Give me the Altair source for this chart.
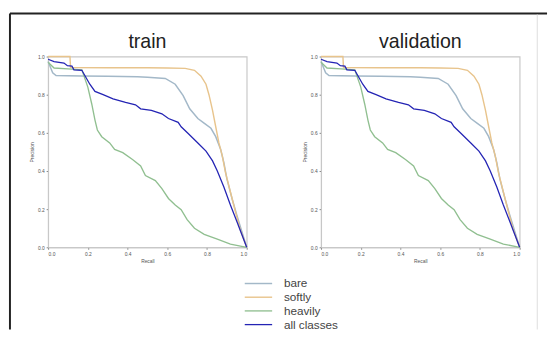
import altair as alt
import pandas as pd

panels = ["train", "validation"]
classes = ["bare", "softly", "heavily", "all classes"]
colors = ["#a3b8c8", "#e8c48c", "#90bf90", "#2424b4"]
widths = [1.5, 1.3, 1.5, 3.2]

bare_recall = [0.0, 0.023, 0.04, 0.10, 0.17, 0.30, 0.45, 0.50, 0.59, 0.64, 0.68, 0.713, 0.754, 0.787,
               0.82, 0.844, 0.869, 0.885, 0.90, 0.926, 0.95, 0.975, 1.0]
bare_precision = [0.974, 0.915, 0.90, 0.899, 0.898, 0.897, 0.894, 0.892, 0.885, 0.855, 0.795, 0.726,
                  0.675, 0.65, 0.624, 0.58, 0.513, 0.444, 0.36, 0.256, 0.17, 0.085, 0.0]

softly_recall = [0.0, 0.11, 0.113, 0.30, 0.50, 0.60, 0.69, 0.737, 0.77, 0.795, 0.81, 0.828, 0.844,
                 0.86, 0.877, 0.893, 0.918, 0.943, 0.967, 1.0]
softly_precision = [1.0, 1.0, 0.942, 0.941, 0.941, 0.94, 0.938, 0.928, 0.897, 0.855, 0.80, 0.718,
                    0.632, 0.547, 0.479, 0.393, 0.29, 0.188, 0.094, 0.0]

heavily_recall = [0.0, 0.03, 0.10, 0.17, 0.19, 0.20, 0.22, 0.236, 0.248, 0.27, 0.31, 0.335, 0.376,
                  0.425, 0.466, 0.49, 0.54, 0.573, 0.606, 0.64, 0.67, 0.70, 0.737, 0.786, 0.852,
                  0.918, 1.0]
heavily_precision = [0.97, 0.94, 0.935, 0.93, 0.87, 0.84, 0.75, 0.667, 0.615, 0.58, 0.547, 0.513,
                     0.496, 0.46, 0.427, 0.376, 0.35, 0.308, 0.256, 0.222, 0.197, 0.145, 0.10,
                     0.068, 0.043, 0.017, 0.0]

all_recall = [0.0, 0.03, 0.08, 0.097, 0.12, 0.13, 0.17, 0.187, 0.21, 0.236, 0.277, 0.327, 0.39,
              0.44, 0.466, 0.52, 0.573, 0.606, 0.655, 0.67, 0.704, 0.754, 0.795, 0.828, 0.852,
              0.885, 0.918, 0.95, 0.975, 1.0]
all_precision = [0.986, 0.974, 0.966, 0.952, 0.95, 0.93, 0.928, 0.897, 0.855, 0.817, 0.80, 0.778,
                 0.76, 0.747, 0.726, 0.718, 0.70, 0.675, 0.655, 0.632, 0.598, 0.547, 0.504, 0.453,
                 0.40, 0.316, 0.222, 0.137, 0.068, 0.0]

ticks = [0.0, 0.2, 0.4, 0.6, 0.8, 1.0]

series = {
    "bare": (bare_recall, bare_precision),
    "softly": (softly_recall, softly_precision),
    "heavily": (heavily_recall, heavily_precision),
    "all classes": (all_recall, all_precision),
}

rows = []
for panel in panels:
    for cls in classes:
        r, p = series[cls]
        for i, (x, y) in enumerate(zip(r, p)):
            rows.append({"panel": panel, "cls": cls, "recall": x, "precision": y, "order": i})
df = pd.DataFrame(rows)

legend_kw = dict(
    title=None, orient="none", legendX=207, legendY=224, padding=0,
    symbolType="M-2,0H2", symbolSize=196, labelFontSize=12,
    labelFont="Liberation Sans", labelColor="#444", rowPadding=0,
    labelOffset=18,
)
color = alt.Color("cls:N", scale=alt.Scale(domain=classes, range=colors),
                  legend=alt.Legend(**legend_kw))
sw = alt.StrokeWidth("cls:N", scale=alt.Scale(domain=classes, range=widths),
                     legend=alt.Legend(**legend_kw))

xenc = alt.X("recall:Q", scale=alt.Scale(domain=[0, 1], nice=False),
             axis=alt.Axis(values=ticks, format=".1f", title="Recall"))
yenc = alt.Y("precision:Q", scale=alt.Scale(domain=[0, 1], nice=False),
             axis=alt.Axis(values=ticks, format=".1f", title="Precision"))


def panel_chart(name, with_border=False):
    base = alt.Chart(df).transform_filter(alt.datum.panel == name)
    thin = base.transform_filter(alt.datum.cls != "all classes").mark_line().encode(
        x=xenc, y=yenc, color=color, strokeWidth=sw, order="order:Q", detail="cls:N")
    thick = base.transform_filter(alt.datum.cls == "all classes").mark_line().encode(
        x=xenc, y=yenc, color=color, strokeWidth=sw, order="order:Q")
    title = alt.Chart(pd.DataFrame({"title": [name]})).mark_text(
        fontSize=20, font="Liberation Sans", color="#222", baseline="alphabetic", align="center"
    ).encode(text="title:N", x=alt.value(101.5), y=alt.value(-9))
    layers = [thin, thick, title]
    if with_border:
        one = pd.DataFrame({"a": [0]})
        top = alt.Chart(one).mark_rule(color="#222", strokeWidth=2).encode(
            x=alt.value(-39), x2=alt.value(510), y=alt.value(-44))
        left = alt.Chart(one).mark_rule(color="#222", strokeWidth=2).encode(
            x=alt.value(-39), y=alt.value(-44), y2=alt.value(279))
        right = alt.Chart(one).mark_rule(color="#dddddd", strokeWidth=1).encode(
            x=alt.value(500), y=alt.value(-43), y2=alt.value(279))
        layers += [top, left, right]
    return alt.layer(*layers).properties(width=203, height=195)


chart = alt.hconcat(panel_chart("train", True), panel_chart("validation"),
                    spacing=76, bounds="flush").properties(padding=0).configure_view(
    stroke="#c8c8c8", strokeWidth=1.2
).configure_axis(
    grid=False, labelFontSize=5, labelColor="#555", titleFontSize=5, titleColor="#555",
    titleFontWeight="normal", domainColor="#c8c8c8", tickColor="#888", tickSize=2,
    labelPadding=2, titlePadding=3, labelFont="Liberation Sans", titleFont="Liberation Sans",
)

chart.save("out.html", embed_options={"renderer": "svg", "actions": False})
